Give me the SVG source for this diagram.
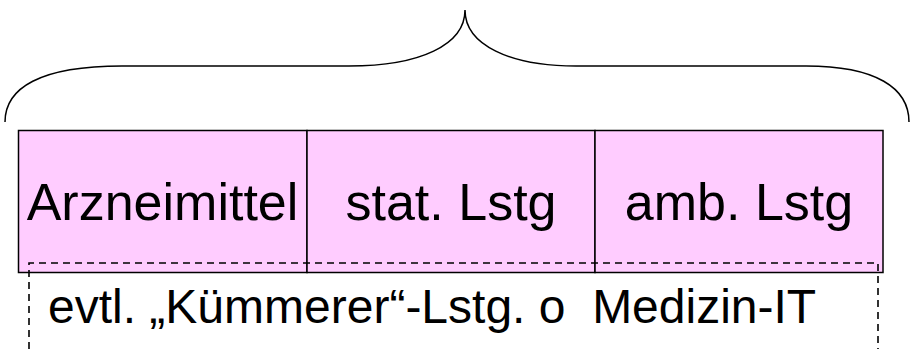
<svg xmlns="http://www.w3.org/2000/svg" width="913" height="349" viewBox="0 0 913 349">
<style>
.cell{fill:#FFCCFF;stroke:#000;stroke-width:1.5}
.lbl{font-family:"Liberation Sans",Arial,sans-serif;fill:#000;text-anchor:middle}
.dash{fill:none;stroke:#000;stroke-width:1.6;stroke-dasharray:7 5}
</style>
<rect width="913" height="349" fill="#fff"/>
<g id="brace">
<path d="M 5,122 C 5,88 40,66 122,66 L 349,66 C 420,66 465,45 465,10 C 465,45 510,66 576,66 L 806,66 C 876,66 909,88 909,122" fill="none" stroke="#000" stroke-width="1.5"/>
</g>
<g id="arzneimittel">
<rect class="cell" x="18.5" y="130.5" width="288.5" height="142"/>
<text class="lbl" x="162.5" y="220" font-size="52">Arzneimittel</text>
</g>
<g id="stat">
<rect class="cell" x="307" y="130.5" width="288" height="142"/>
<text class="lbl" x="451" y="220" font-size="52">stat. Lstg</text>
</g>
<g id="amb">
<rect class="cell" x="595" y="130.5" width="288" height="142"/>
<text class="lbl" x="739" y="220" font-size="52">amb. Lstg</text>
</g>
<g id="connectors">
<path class="dash" d="M 29,349 L 29,263 L 878,263 L 878,349"/>
</g>
<g id="kuemmerer">
<text class="lbl" x="48" y="323" font-size="48" text-anchor="start" style="text-anchor:start" xml:space="preserve">evtl. „Kümmerer“-Lstg. o  Medizin-IT</text>
</g>
</svg>
